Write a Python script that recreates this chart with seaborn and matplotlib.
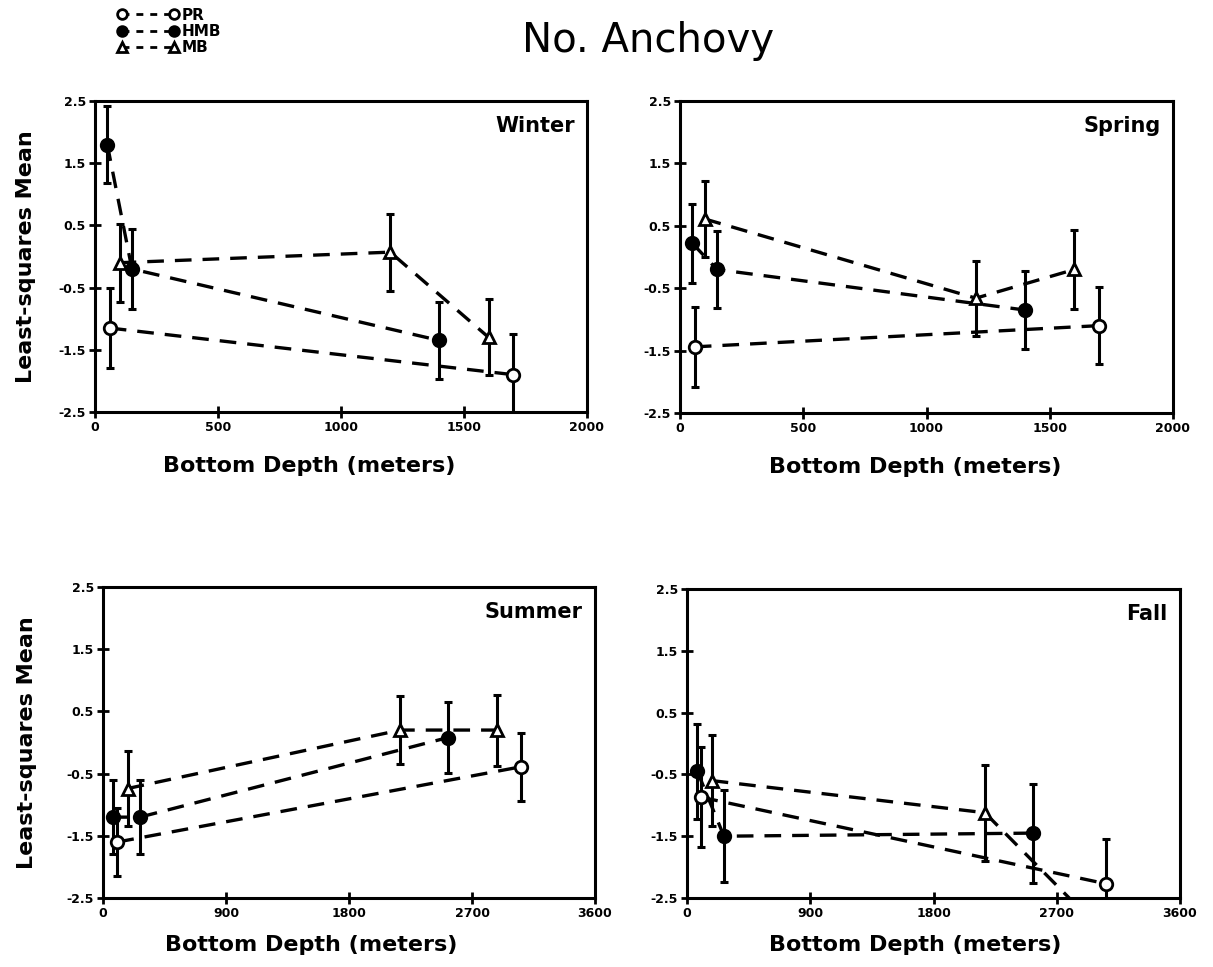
import numpy as np
import pandas as pd
import matplotlib
matplotlib.use("Agg")
import matplotlib.pyplot as plt
import seaborn as sns
from matplotlib.lines import Line2D

# ---------------- data ----------------
seasons = ["Winter", "Spring", "Summer", "Fall"]
series_names = ["PR", "HMB", "MB"]

winter_pr_depth = [60, 1700]
winter_pr_mean = [-1.15, -1.9]
winter_pr_err = [0.64, 0.65]
winter_hmb_depth = [50, 150, 1400]
winter_hmb_mean = [1.8, -0.2, -1.35]
winter_hmb_err = [0.62, 0.64, 0.62]
winter_mb_depth = [100, 1200, 1600]
winter_mb_mean = [-0.1, 0.07, -1.3]
winter_mb_err = [0.63, 0.62, 0.61]

spring_pr_depth = [60, 1700]
spring_pr_mean = [-1.44, -1.1]
spring_pr_err = [0.64, 0.62]
spring_hmb_depth = [50, 150, 1400]
spring_hmb_mean = [0.22, -0.2, -0.85]
spring_hmb_err = [0.63, 0.61, 0.62]
spring_mb_depth = [100, 1200, 1600]
spring_mb_mean = [0.61, -0.66, -0.2]
spring_mb_err = [0.61, 0.6, 0.64]

summer_pr_depth = [105, 3060]
summer_pr_mean = [-1.6, -0.39]
summer_pr_err = [0.55, 0.55]
summer_hmb_depth = [75, 270, 2525]
summer_hmb_mean = [-1.2, -1.2, 0.08]
summer_hmb_err = [0.59, 0.6, 0.57]
summer_mb_depth = [180, 2175, 2880]
summer_mb_mean = [-0.74, 0.2, 0.2]
summer_mb_err = [0.61, 0.55, 0.57]

fall_pr_depth = [105, 3060]
fall_pr_mean = [-0.87, -2.27]
fall_pr_err = [0.81, 0.72]
fall_hmb_depth = [75, 270, 2525]
fall_hmb_mean = [-0.45, -1.5, -1.45]
fall_hmb_err = [0.77, 0.74, 0.8]
fall_mb_depth = [180, 2175, 2880]
fall_mb_mean = [-0.6, -1.12, -2.7]
fall_mb_err = [0.74, 0.78, np.nan]

y_ticks = [-2.5, -1.5, -0.5, 0.5, 1.5, 2.5]
y_tick_labels = ["-2.5", "-1.5", "-0.5", "0.5", "1.5", "2.5"]
x_ticks_short = [0, 500, 1000, 1500, 2000]
x_ticks_long = [0, 900, 1800, 2700, 3600]

# ---------------- build tidy table ----------------
rows = []
src = {
    "Winter": [(winter_pr_depth, winter_pr_mean, winter_pr_err),
               (winter_hmb_depth, winter_hmb_mean, winter_hmb_err),
               (winter_mb_depth, winter_mb_mean, winter_mb_err)],
    "Spring": [(spring_pr_depth, spring_pr_mean, spring_pr_err),
               (spring_hmb_depth, spring_hmb_mean, spring_hmb_err),
               (spring_mb_depth, spring_mb_mean, spring_mb_err)],
    "Summer": [(summer_pr_depth, summer_pr_mean, summer_pr_err),
               (summer_hmb_depth, summer_hmb_mean, summer_hmb_err),
               (summer_mb_depth, summer_mb_mean, summer_mb_err)],
    "Fall": [(fall_pr_depth, fall_pr_mean, fall_pr_err),
             (fall_hmb_depth, fall_hmb_mean, fall_hmb_err),
             (fall_mb_depth, fall_mb_mean, fall_mb_err)],
}
for s in seasons:
    for name, (d, m, e) in zip(series_names, src[s]):
        for di, mi, ei in zip(d, m, e):
            rows.append(dict(season=s, series=name, depth=di, mean=mi, err=ei))
df = pd.DataFrame(rows)

# ---------------- style ----------------
sns.set_theme(style="ticks")
plt.rcParams["font.family"] = ["DejaVu Sans"]
plt.rcParams["axes.linewidth"] = 2.2
plt.rcParams["text.color"] = "black"
plt.rcParams["axes.labelcolor"] = "black"
plt.rcParams["xtick.color"] = "black"
plt.rcParams["ytick.color"] = "black"
plt.rcParams["axes.edgecolor"] = "black"

marker_style = {
    "PR": dict(marker="o", markerfacecolor="white"),
    "HMB": dict(marker="o", markerfacecolor="black"),
    "MB": dict(marker="^", markerfacecolor="white"),
}
dash = (0, (5, 3.3))

fig = plt.figure(figsize=(12.13, 9.67), dpi=100)

W, H = 1213.0, 967.0
boxes = {  # left, top, right, bottom in pixels
    "Winter": (95, 101, 587, 412),
    "Spring": (680, 101, 1173, 413),
    "Summer": (103, 587, 595, 898),
    "Fall": (687, 589, 1180, 898),
}
xlabel_pos = {"Winter": 0.435, "Spring": 0.477, "Summer": 0.423, "Fall": 0.462}
xlabel_off = {"Winter": -0.14, "Spring": -0.14, "Summer": -0.12, "Fall": -0.12}

for s in seasons:
    l, t, r, b = boxes[s]
    ax = fig.add_axes([l / W, 1 - b / H, (r - l) / W, (b - t) / H])
    sub = df[df.season == s]
    for name in series_names:
        d = sub[sub.series == name]
        ax.errorbar(d["depth"], d["mean"], yerr=d["err"], fmt="none",
                    ecolor="black", elinewidth=2.2, capsize=3.2, capthick=2.2,
                    zorder=2)
        sns.lineplot(data=d, x="depth", y="mean", ax=ax, color="black",
                     estimator=None, errorbar=None, sort=True,
                     linestyle=dash, linewidth=2.4, markersize=9,
                     markeredgecolor="black", markeredgewidth=2.0,
                     zorder=3, **marker_style[name])
    ax.set_ylim(-2.5, 2.5)
    if s in ("Winter", "Spring"):
        ax.set_xlim(0, 2000)
        ax.set_xticks(x_ticks_short)
        ax.set_xticklabels([str(v) for v in x_ticks_short])
    else:
        ax.set_xlim(0, 3600)
        ax.set_xticks(x_ticks_long)
        ax.set_xticklabels([str(v) for v in x_ticks_long])
    ax.set_yticks(y_ticks)
    ax.set_yticklabels(y_tick_labels)
    ax.tick_params(direction="inout", length=9, width=2.0, labelsize=9,
                   pad=2, colors="black")
    for lab in ax.get_xticklabels() + ax.get_yticklabels():
        lab.set_fontweight("heavy")
    for sp in ax.spines.values():
        sp.set_linewidth(2.2)
        sp.set_color("black")
    ax.set_xlabel("Bottom Depth (meters)", fontsize=16, fontweight="bold",
                  color="black")
    ax.xaxis.set_label_coords(xlabel_pos[s], xlabel_off[s])
    if s in ("Winter", "Summer"):
        ax.set_ylabel("Least-squares Mean", fontsize=16, fontweight="bold",
                      color="black")
        ax.yaxis.set_label_coords(-0.12 if s == "Winter" else -0.135, 0.5)
    else:
        ax.set_ylabel("")
    ax.text(0.975, 0.92, s, transform=ax.transAxes, ha="right", va="center",
            fontsize=15, fontweight="bold", color="black")

fig.text(0.534, 0.958, "No. Anchovy", ha="center", va="center", fontsize=29,
         color="black")

handles = [
    Line2D([], [], color="black", linestyle=(0, (2.5, 2.5)), linewidth=2.0,
           markersize=7, markeredgecolor="black", markeredgewidth=2,
           **marker_style[n])
    for n in series_names
]
leg = fig.legend(handles, series_names, numpoints=2, frameon=False,
                 loc="upper left", bbox_to_anchor=(110 / W, 1.0),
                 handlelength=4.0, handletextpad=0.2, labelspacing=0.08,
                 borderpad=0, prop=dict(size=11, weight="bold"))
for txt in leg.get_texts():
    txt.set_color("black")

fig.savefig("out.png", dpi=100, facecolor="white")
